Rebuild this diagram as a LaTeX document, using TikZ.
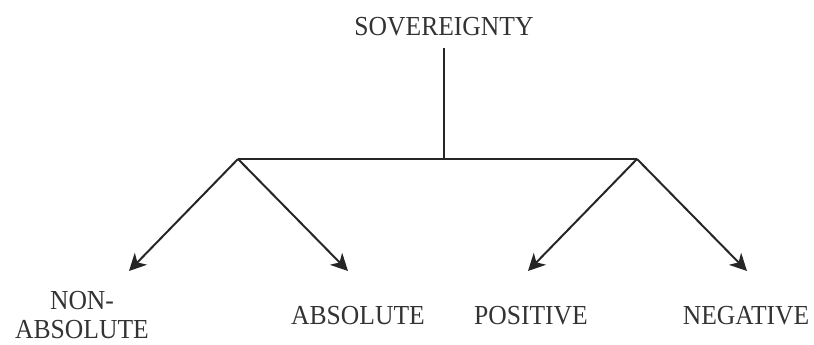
\documentclass[tikz,border=0pt]{standalone}
\usepackage{fontspec}
\setmainfont{Liberation Serif}[FakeStretch=0.93]
\usetikzlibrary{arrows.meta}
\begin{document}
\begin{tikzpicture}[x=1pt,y=-1pt,
  lbl/.style={inner sep=0pt, font=\fontsize{27.5}{29}\selectfont, align=center, text=black!80},
  ln/.style={line width=2pt, draw=black!85},
  arr/.style={ln, -{Stealth[length=17pt,width=17pt,inset=5pt]}}]
\useasboundingbox (0,0) rectangle (814,345);
\node[lbl] (sov) at (444,27) {SOVEREIGNTY};
\coordinate (jc) at (444,159);
\coordinate (jl) at (238,159);
\coordinate (jr) at (637,159);
\coordinate (t1) at (129,271);
\coordinate (t2) at (348,271);
\coordinate (t3) at (528,271);
\coordinate (t4) at (747,271);
\node[lbl] (nonabs) at (82,315) {NON-\\ABSOLUTE};
\node[lbl] (abs) at (358,316) {ABSOLUTE};
\node[lbl] (pos) at (531,316) {POSITIVE};
\node[lbl] (neg) at (746,316) {NEGATIVE};
\draw[ln] (sov.south |- 0,48) -- (jc);
\draw[ln] (jl) -- (jr);
\draw[arr] (jl) -- (t1);
\draw[arr] (jl) -- (t2);
\draw[arr] (jr) -- (t3);
\draw[arr] (jr) -- (t4);
\end{tikzpicture}
\end{document}
